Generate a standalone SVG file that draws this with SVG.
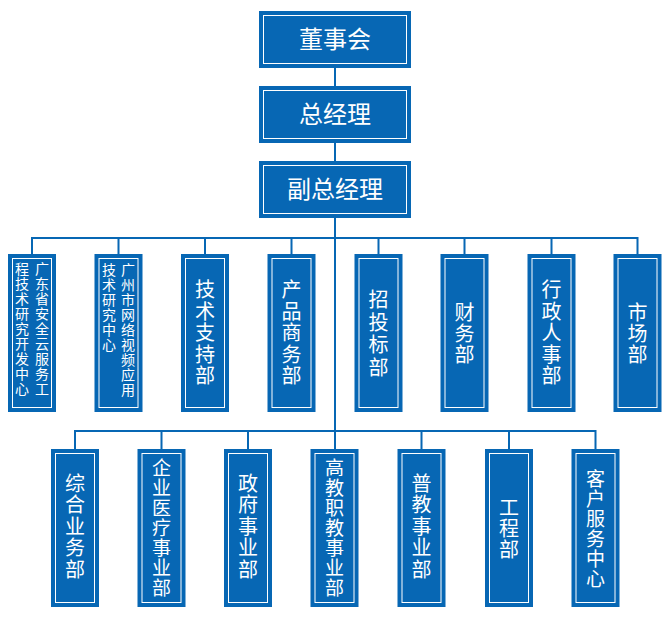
<svg xmlns="http://www.w3.org/2000/svg" width="670" height="623" viewBox="0 0 670 623">
<style>
.box{fill:#0767b4;stroke:#0767b4;stroke-width:2}
.inner{fill:none;stroke:#ffffff;stroke-width:1}
.t{fill:#ffffff;font-family:"Noto Sans CJK SC","Microsoft YaHei",sans-serif;text-anchor:middle}
.h{font-size:24px}
.v{font-size:20px}
.s{font-size:14px}
.ln{fill:none;stroke:#0767b4;stroke-width:2}
</style>
<rect width="670" height="623" fill="#ffffff"/>
<g id="connectors">
<path class="ln" d="M335 67V86M335 142V161M335 217V431"/>
<path class="ln" d="M32 254V238H637.5V254M118.5 238V254M205 238V254M291.5 238V254M378.5 238V254M464.5 238V254M551.5 238V254"/>
<path class="ln" d="M75 449V431H595.5V449M161.5 431V449M248 431V449M421.5 431V449M509 431V449M335 431V449"/>
</g>
<g id="n_dongshihui"><rect class="box" x="260" y="12" width="150" height="55"/><rect class="inner" x="263.5" y="15.5" width="143" height="48"/><text class="t h" x="335" y="48">董事会</text></g>
<g id="n_zongjingli"><rect class="box" x="260" y="87" width="150" height="55"/><rect class="inner" x="263.5" y="90.5" width="143" height="48"/><text class="t h" x="335" y="123">总经理</text></g>
<g id="n_fuzongjingli"><rect class="box" x="260" y="162" width="150" height="55"/><rect class="inner" x="263.5" y="165.5" width="143" height="48"/><text class="t h" x="335" y="198">副总经理</text></g>

<g id="n_gdyun"><rect class="box" x="9" y="255" width="46" height="156"/><rect class="inner" x="12.5" y="258.5" width="39" height="149"/>
<text class="t s" x="42" y="274"><tspan x="42">广</tspan><tspan x="42" dy="15">东</tspan><tspan x="42" dy="15">省</tspan><tspan x="42" dy="15">安</tspan><tspan x="42" dy="15">全</tspan><tspan x="42" dy="15">云</tspan><tspan x="42" dy="15">服</tspan><tspan x="42" dy="15">务</tspan><tspan x="42" dy="15">工</tspan></text>
<text class="t s" x="22" y="274"><tspan x="22">程</tspan><tspan x="22" dy="15">技</tspan><tspan x="22" dy="15">术</tspan><tspan x="22" dy="15">研</tspan><tspan x="22" dy="15">究</tspan><tspan x="22" dy="15">开</tspan><tspan x="22" dy="15">发</tspan><tspan x="22" dy="15">中</tspan><tspan x="22" dy="15">心</tspan></text></g>

<g id="n_gzvideo"><rect class="box" x="95.5" y="255" width="46" height="156"/><rect class="inner" x="99" y="258.5" width="39" height="149"/>
<text class="t s" x="128" y="275"><tspan x="128">广</tspan><tspan x="128" dy="15">州</tspan><tspan x="128" dy="15">市</tspan><tspan x="128" dy="15">网</tspan><tspan x="128" dy="15">络</tspan><tspan x="128" dy="15">视</tspan><tspan x="128" dy="15">频</tspan><tspan x="128" dy="15">应</tspan><tspan x="128" dy="15">用</tspan></text>
<text class="t s" x="109" y="275"><tspan x="109">技</tspan><tspan x="109" dy="15">术</tspan><tspan x="109" dy="15">研</tspan><tspan x="109" dy="15">究</tspan><tspan x="109" dy="15">中</tspan><tspan x="109" dy="15">心</tspan></text></g>

<g id="n_jishu"><rect class="box" x="182" y="255" width="46" height="156"/><rect class="inner" x="185.5" y="258.5" width="39" height="149"/>
<text class="t v" y="297"><tspan x="205">技</tspan><tspan x="205" dy="21.5">术</tspan><tspan x="205" dy="21.5">支</tspan><tspan x="205" dy="21.5">持</tspan><tspan x="205" dy="21.5">部</tspan></text></g>

<g id="n_chanpin"><rect class="box" x="268.5" y="255" width="46" height="156"/><rect class="inner" x="272" y="258.5" width="39" height="149"/>
<text class="t v" y="297"><tspan x="291.5">产</tspan><tspan x="291.5" dy="21.5">品</tspan><tspan x="291.5" dy="21.5">商</tspan><tspan x="291.5" dy="21.5">务</tspan><tspan x="291.5" dy="21.5">部</tspan></text></g>

<g id="n_zhaotoubiao"><rect class="box" x="355.5" y="255" width="46" height="156"/><rect class="inner" x="359" y="258.5" width="39" height="149"/>
<text class="t v" y="307"><tspan x="378.5">招</tspan><tspan x="378.5" dy="22.5">投</tspan><tspan x="378.5" dy="22.5">标</tspan><tspan x="378.5" dy="22.5">部</tspan></text></g>

<g id="n_caiwu"><rect class="box" x="441.5" y="255" width="46" height="156"/><rect class="inner" x="445" y="258.5" width="39" height="149"/>
<text class="t v" y="319.5"><tspan x="464.5">财</tspan><tspan x="464.5" dy="21">务</tspan><tspan x="464.5" dy="21">部</tspan></text></g>

<g id="n_xingzheng"><rect class="box" x="528.5" y="255" width="46" height="156"/><rect class="inner" x="532" y="258.5" width="39" height="149"/>
<text class="t v" y="297"><tspan x="551.5">行</tspan><tspan x="551.5" dy="21.5">政</tspan><tspan x="551.5" dy="21.5">人</tspan><tspan x="551.5" dy="21.5">事</tspan><tspan x="551.5" dy="21.5">部</tspan></text></g>

<g id="n_shichang"><rect class="box" x="614.5" y="255" width="46" height="156"/><rect class="inner" x="618" y="258.5" width="39" height="149"/>
<text class="t v" y="319.5"><tspan x="637.5">市</tspan><tspan x="637.5" dy="21">场</tspan><tspan x="637.5" dy="21">部</tspan></text></g>

<g id="n_zonghe"><rect class="box" x="52" y="450" width="46" height="156"/><rect class="inner" x="55.5" y="453.5" width="39" height="149"/>
<text class="t v" y="490.5"><tspan x="75">综</tspan><tspan x="75" dy="21.5">合</tspan><tspan x="75" dy="21.5">业</tspan><tspan x="75" dy="21.5">务</tspan><tspan x="75" dy="21.5">部</tspan></text></g>

<g id="n_qiye"><rect class="box" x="138.5" y="450" width="46" height="156"/><rect class="inner" x="142" y="453.5" width="39" height="149"/>
<text class="t v" style="font-size:19px" y="475"><tspan x="161.5">企</tspan><tspan x="161.5" dy="20">业</tspan><tspan x="161.5" dy="20">医</tspan><tspan x="161.5" dy="20">疗</tspan><tspan x="161.5" dy="20">事</tspan><tspan x="161.5" dy="20">业</tspan><tspan x="161.5" dy="20">部</tspan></text></g>

<g id="n_zhengfu"><rect class="box" x="225" y="450" width="46" height="156"/><rect class="inner" x="228.5" y="453.5" width="39" height="149"/>
<text class="t v" y="490.5"><tspan x="248">政</tspan><tspan x="248" dy="21.5">府</tspan><tspan x="248" dy="21.5">事</tspan><tspan x="248" dy="21.5">业</tspan><tspan x="248" dy="21.5">部</tspan></text></g>

<g id="n_gaojiao"><rect class="box" x="311.5" y="450" width="46" height="156"/><rect class="inner" x="315" y="453.5" width="39" height="149"/>
<text class="t v" style="font-size:19px" y="475"><tspan x="334.5">高</tspan><tspan x="334.5" dy="20">教</tspan><tspan x="334.5" dy="20">职</tspan><tspan x="334.5" dy="20">教</tspan><tspan x="334.5" dy="20">事</tspan><tspan x="334.5" dy="20">业</tspan><tspan x="334.5" dy="20">部</tspan></text></g>

<g id="n_pujiao"><rect class="box" x="398.5" y="450" width="46" height="156"/><rect class="inner" x="402" y="453.5" width="39" height="149"/>
<text class="t v" y="490.5"><tspan x="421.5">普</tspan><tspan x="421.5" dy="21.5">教</tspan><tspan x="421.5" dy="21.5">事</tspan><tspan x="421.5" dy="21.5">业</tspan><tspan x="421.5" dy="21.5">部</tspan></text></g>

<g id="n_gongcheng"><rect class="box" x="486" y="450" width="46" height="156"/><rect class="inner" x="489.5" y="453.5" width="39" height="149"/>
<text class="t v" y="514.5"><tspan x="509">工</tspan><tspan x="509" dy="21">程</tspan><tspan x="509" dy="21">部</tspan></text></g>

<g id="n_kehu"><rect class="box" x="572.5" y="450" width="46" height="156"/><rect class="inner" x="576" y="453.5" width="39" height="149"/>
<text class="t v" style="font-size:19px" y="486"><tspan x="595.5">客</tspan><tspan x="595.5" dy="20">户</tspan><tspan x="595.5" dy="20">服</tspan><tspan x="595.5" dy="20">务</tspan><tspan x="595.5" dy="20">中</tspan><tspan x="595.5" dy="20">心</tspan></text></g>
</svg>
